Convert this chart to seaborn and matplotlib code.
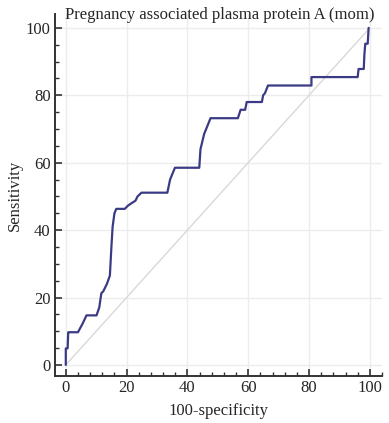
import numpy as np
import matplotlib
matplotlib.use("Agg")
import matplotlib.pyplot as plt
import seaborn as sns
import pandas as pd
from matplotlib.ticker import MultipleLocator

sns.set_style("white")
plt.rcParams['font.family'] = ['Liberation Serif', 'DejaVu Serif']

# ROC curve (100-specificity, sensitivity)
fpr = [0, 0, 0.6, 0.8, 1.3, 4.0, 5.5, 6.8, 10.1, 11.0, 11.7, 12.3, 13.5, 14.5,
       15.0, 15.4, 16.0, 16.6, 19.4, 20.5, 22.0, 22.9, 23.6, 24.9, 33.4, 34.3,
       35.9, 43.9, 44.3, 45.5, 47.6, 56.6, 57.5, 59.0, 59.5, 64.5, 64.9, 65.5,
       66.5, 80.8, 80.8, 96.0, 96.3, 98.0, 98.2, 98.5, 99.3, 99.6]
tpr = [0, 4.9, 4.9, 9.7, 9.7, 9.7, 12.2, 14.7, 14.7, 17.0, 21.3, 21.8, 24.0, 26.5,
       35.0, 41.0, 45.0, 46.3, 46.3, 47.3, 48.2, 48.7, 50.0, 51.1, 51.1, 55.0,
       58.5, 58.5, 64.0, 68.5, 73.2, 73.2, 75.7, 75.7, 78.0, 78.0, 80.0, 80.6,
       82.9, 82.9, 85.4, 85.4, 87.8, 87.8, 92.0, 95.3, 95.3, 100.0]
ref_x = [0, 100]
ref_y = [0, 100]

df = pd.DataFrame({"fpr": fpr, "tpr": tpr})
df_ref = pd.DataFrame({"x": ref_x, "y": ref_y})

fig = plt.figure(figsize=(3.89, 4.23), dpi=100)
ax = fig.add_axes([0.141, 0.111, 0.841, 0.855])

ax.grid(True, color='#ececec', linewidth=1.0)
sns.lineplot(data=df_ref, x="x", y="y", color='#d8d8d8', linewidth=1.0, ax=ax)
sns.lineplot(data=df, x="fpr", y="tpr", sort=False, estimator=None,
             color='#3b3b85', linewidth=1.6, ax=ax)

ax.set_xlim(-3.6, 104)
ax.set_ylim(-3.3, 104)
ax.xaxis.set_major_locator(MultipleLocator(20))
ax.xaxis.set_minor_locator(MultipleLocator(4))
ax.yaxis.set_major_locator(MultipleLocator(20))
ax.yaxis.set_minor_locator(MultipleLocator(5))
ax.tick_params(which='major', direction='in', length=5, width=1.2, color='#333333',
               labelsize=12, pad=3)
ax.tick_params(which='minor', direction='in', length=3, width=1.0, color='#333333')
ax.tick_params(axis='x', which='both', bottom=True)
ax.tick_params(axis='y', which='both', left=True)

for s in ['top', 'right']:
    ax.spines[s].set_visible(False)
for s in ['left', 'bottom']:
    ax.spines[s].set_color('#333333')
    ax.spines[s].set_linewidth(1.4)

ax.set_xlabel('100-specificity', fontsize=12, labelpad=5)
ax.set_ylabel('Sensitivity', fontsize=12, labelpad=2)
# title sits just inside the top of the axes area
fig.text(220 / 389, 1 - 19 / 423, 'Pregnancy associated plasma protein A (mom)',
         fontsize=12, ha='center', va='baseline')

fig.savefig('out.png', dpi=100)
